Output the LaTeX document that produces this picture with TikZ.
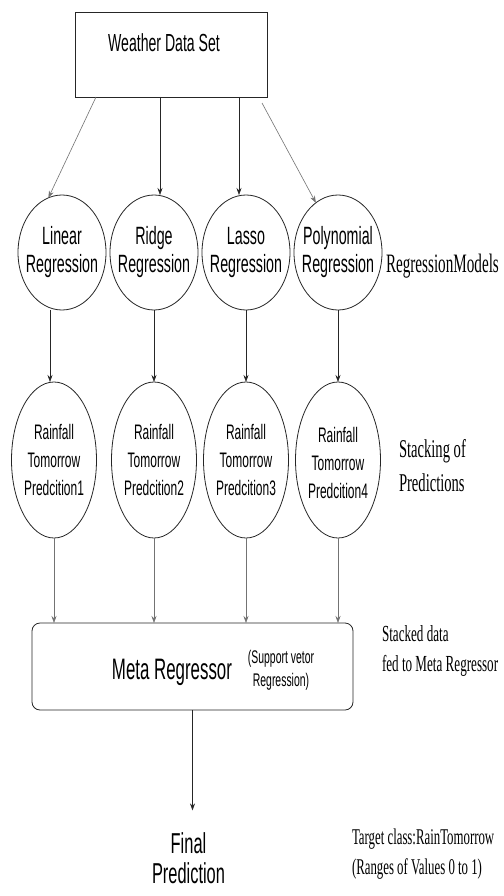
\documentclass[tikz,border=0pt]{standalone}
\usepackage{fontspec}
\usetikzlibrary{shapes.geometric,arrows.meta,calc}
\newfontfamily\sfn[FakeStretch=0.57]{Liberation Sans}
\newfontfamily\sern[FakeStretch=0.57]{Liberation Serif}
\begin{document}
\begin{tikzpicture}[x=1pt,y=-1pt,
  every node/.style={inner sep=0pt,outer sep=0pt},
  model/.style={draw=black!85,ellipse,line width=0.8pt,minimum width=88pt,minimum height=115pt},
  pred/.style={draw=black!85,ellipse,line width=0.8pt,minimum width=85pt,minimum height=156pt},
  mtext/.style={align=center,font={\sfn\fontsize{25}{28}\selectfont}},
  ptext/.style={align=center,font={\sfn\fontsize{21}{28}\selectfont}},
  side/.style={align=left,anchor=west,font={\sern\fontsize{23}{30}\selectfont}},
  arr/.style={-{Stealth[length=7pt,width=5pt]},line width=0.6pt,black!85},
  garr/.style={-{Stealth[length=7pt,width=5pt]},line width=0.6pt,black!55},
]
\useasboundingbox (0,0) rectangle (503,896);
\fill[white] (0,0) rectangle (503,896);

% top box
\node[draw=black!85,line width=0.8pt,minimum width=192pt,minimum height=85pt] (box) at (171,54.5) {};
\node[font={\sfn\fontsize{24.7}{28}\selectfont}] (wtext) at (164,43) {Weather Data Set};

% regression models
\node[model,label={[mtext,name=t1]center:{Linear\\Regression}}] (c1) at (62,252.5) {};
\node[model,label={[mtext,name=t2]center:{Ridge\\Regression}}] (c2) at (154,252.5) {};
\node[model,label={[mtext,name=t3]center:{Lasso\\Regression}}] (c3) at (246,252.5) {};
\node[model,label={[mtext,name=t4]center:{Polynomial\\Regression}}] (c4) at (338,252.5) {};

% predictions
\node[pred,label={[ptext,name=q1]center:{Rainfall\\Tomorrow\\Predcition1}}] (p1) at (54,460) {};
\node[pred,label={[ptext,name=q2]center:{Rainfall\\Tomorrow\\Predcition2}}] (p2) at (154,460) {};
\node[pred,label={[ptext,name=q3]center:{Rainfall\\Tomorrow\\Predcition3}}] (p3) at (246,460) {};
\node[pred,label={[ptext,name=q4,yshift=-3pt]center:{Rainfall\\Tomorrow\\Predcition4}}] (p4) at (338,460) {};

% meta regressor
\node[draw=black!85,line width=0.8pt,rounded corners=8pt,minimum width=321pt,minimum height=87pt] (m) at (192.5,666.5) {};
\node[font={\sfn\fontsize{29.6}{32}\selectfont}] (mtxt) at (172,672) {Meta Regressor};
\node[align=center,font={\sfn\fontsize{18.3}{23}\selectfont}] (svr) at (281,670) {(Support vetor\\Regression)};

% final
\node[align=center,font={\sfn\fontsize{28.8}{30}\selectfont}] (fin) at (188.5,858) {Final\\Prediction};

% side texts
\node[side,font={\sern\fontsize{26.6}{30}\selectfont}] (s1) at (386,266) {RegressionModels};
\node[side,font={\sern\fontsize{25.6}{34}\selectfont}] (s2) at (399,466) {Stacking of\\Predictions};
\node[side] (s3) at (382,651) {Stacked data\\fed to Meta Regressor};
\node[side,font={\sern\fontsize{22.5}{30}\selectfont}] (s4) at (352,854) {Target class:RainTomorrow\\(Ranges of Values 0 to 1)};

% connectors: box -> models
\draw[garr] ([xshift=21pt]box.south west) -- (c1.104);
\draw[arr] ([xshift=-11pt]box.south) -- ([xshift=-11pt]box.south |- c2.north);
\draw[arr] ([xshift=68pt]box.south) -- ([xshift=68pt]box.south |- c3.north);
\draw[garr] ([xshift=-5pt,yshift=-6pt]box.south east) -- (c4.114);

% models -> predictions
\draw[arr] ([xshift=-12pt]c1.south) -- ([xshift=-12pt]c1.south |- p1.north);
\draw[arr] (c2.south) -- (c2.south |- p2.north);
\draw[arr] (c3.south) -- (c3.south |- p3.north);
\draw[arr] (c4.south) -- (c4.south |- p4.north);

% predictions -> meta
\draw[garr] (p1.south) -- (p1.south |- m.north);
\draw[garr] (p2.south) -- (p2.south |- m.north);
\draw[garr] (p3.south) -- (p3.south |- m.north);
\draw[garr] (p4.south) -- (p4.south |- m.north);

% meta -> final
\draw[arr] (m.south) -- ($(m.south |- fin.north)+(0,-22)$);
\end{tikzpicture}
\end{document}
